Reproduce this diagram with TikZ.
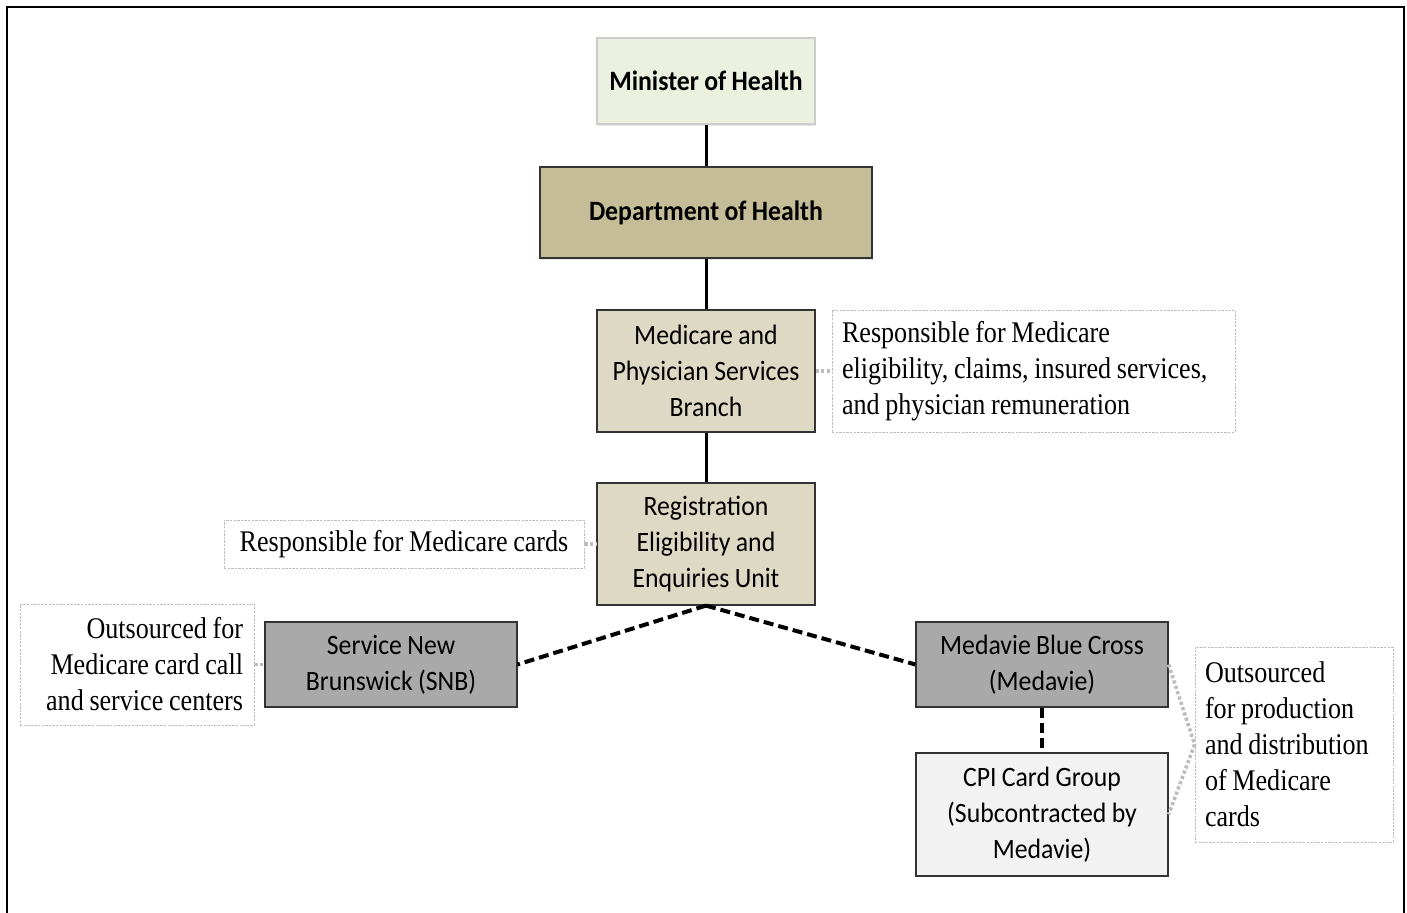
\documentclass[tikz,border=0pt]{standalone}
\usepackage{fontspec}
\setmainfont{Liberation Serif}
\newfontfamily\boxfont[FakeStretch=0.92, WordSpace=0.92]{Carlito}
\newfontfamily\notefont[FakeStretch=0.87, WordSpace=0.87]{Liberation Serif}
\usetikzlibrary{shadows}

\definecolor{Minister}{HTML}{EBF0DF}
\definecolor{Department}{HTML}{C4BD97}
\definecolor{Branch}{HTML}{DDD9C4}
\definecolor{Outsourced}{HTML}{A9A9A9}
\definecolor{Subcontract}{HTML}{F2F2F2}
\definecolor{NoteLine}{HTML}{BDBDBD}

\tikzset{
  unitbox/.style={draw=black!80, line width=0.6pt, align=center, inner sep=0pt,
    font=\boxfont\fontsize{14}{18}\selectfont},
  notebox/.style={draw=NoteLine, line width=0.4pt, dash pattern=on 1.2pt off 0.6pt,
    inner ysep=0pt, font=\notefont\fontsize{15}{18}\selectfont},
  solidlink/.style={line width=1.5pt},
  dashlink/.style={line width=2pt, dash pattern=on 5pt off 2.5pt},
  notelink/.style={draw=NoteLine, line width=1.8pt, dash pattern=on 1.6pt off 1.2pt}
}

\begin{document}
\begin{tikzpicture}[x=0.5pt, y=-0.5pt]

 \useasboundingbox (0,0) rectangle (1407,913);

 %%%%%%%%%% Frame %%%%%%%%%%
 \draw [line width=1pt] (7,913) -- (7,7) -- (1404,7) -- (1404,913);

 %%%%%%%%%% Hierarchy %%%%%%%%%%
 \node [unitbox, fill=Minister, draw=black!20, minimum width=109pt, minimum height=43pt,
   drop shadow={opacity=0.2, shadow xshift=0.6pt, shadow yshift=-0.8pt}]
   (minister) at (706,81) {\bfseries Minister of Health};
 \node [unitbox, fill=Department, minimum width=166pt, minimum height=45.5pt,
   drop shadow={opacity=0.2, shadow xshift=0.6pt, shadow yshift=-0.8pt}]
   (department) at (706,212.5) {\bfseries Department of Health};
 \node [unitbox, fill=Branch, minimum width=109pt, minimum height=61pt]
   (branch) at (706,371) {Medicare and\\Physician Services\\Branch};
 \node [unitbox, fill=Branch, minimum width=109pt, minimum height=61pt]
   (registration) at (706,544) {Registration\\Eligibility and\\Enquiries Unit};

 %%%%%%%%%% Outsourced %%%%%%%%%%
 \node [unitbox, fill=Outsourced, minimum width=126pt, minimum height=42.5pt]
   (snb) at (391,664.5) {Service New\\Brunswick (SNB)};
 \node [unitbox, fill=Outsourced, minimum width=126pt, minimum height=42.5pt]
   (medavie) at (1042,664.5) {Medavie Blue Cross\\(Medavie)};
 \node [unitbox, fill=Subcontract, minimum width=126pt, minimum height=61.5pt]
   (cpi) at (1042,814.5) {CPI Card Group\\(Subcontracted by\\Medavie)};

 %%%%%%%%%% Notes %%%%%%%%%%
 \node [notebox, inner xsep=5pt, text width=191.5pt, minimum height=61pt, align=flush left]
   (noteBranch) at (1033.5,371) {Responsible for Medicare\\eligibility, claims, insured services,\\and physician remuneration};
 \node [notebox, inner xsep=4pt, minimum width=180pt, minimum height=24pt]
   (noteRegistration) at (404,544) {Responsible for Medicare cards};
 \node [notebox, inner xsep=5.5pt, text width=106pt, minimum height=60.5pt, align=flush right]
   (noteSnb) at (137,664.5) {Outsourced for\\Medicare card call\\and service centers};
 \node [notebox, inner xsep=5pt, text width=89pt, minimum height=97.5pt, align=flush left]
   (noteMedavie) at (1294,744.5) {Outsourced\\for production\\and distribution\\of Medicare\\cards};

 %%%%%%%%%% Links %%%%%%%%%%
 \draw [solidlink] (minister) -- (department);
 \draw [solidlink] (department) -- (branch);
 \draw [solidlink] (branch) -- (registration);

 \draw [dashlink] (registration.south) -- (snb.east);
 \draw [dashlink] (registration.south) -- (medavie.west);
 \draw [dashlink] (medavie) -- (cpi);

 \draw [notelink] (branch.east) -- (noteBranch.west);
 \draw [notelink] (noteRegistration.east) -- (registration.west);
 \draw [notelink] (noteSnb.east) -- (snb.west);
 \draw [notelink] (medavie.east) -- (noteMedavie.west) -- (cpi.east);

\end{tikzpicture}
\end{document}
